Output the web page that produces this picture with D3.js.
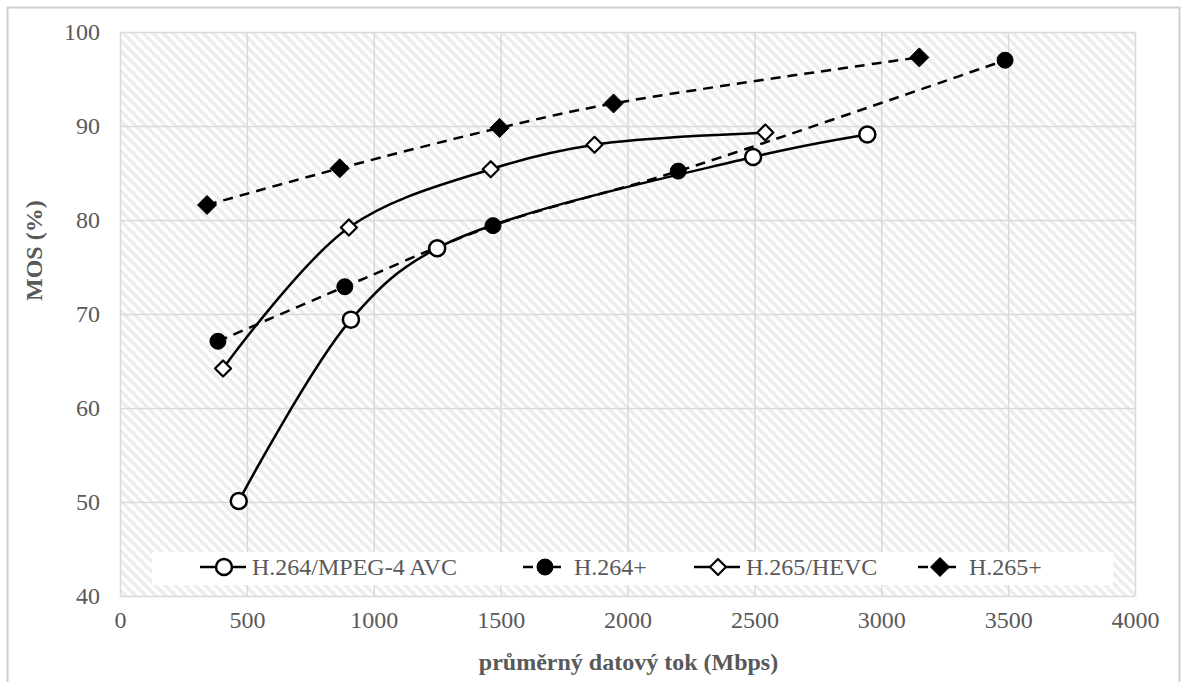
<!DOCTYPE html>
<html>
<head>
<meta charset="utf-8">
<script src="https://cdn.jsdelivr.net/npm/d3@7"></script>
<style>
  body { margin: 0; background: #fff; }
  text { font-family: "Liberation Serif", "Times New Roman", serif; }
</style>
</head>
<body>
<svg id="chart" width="1183" height="682"></svg>
<script>
// Axis ticks
const xTicks = [0, 500, 1000, 1500, 2000, 2500, 3000, 3500, 4000];
const yTicks = [40, 50, 60, 70, 80, 90, 100];

// Series: average bitrate (Mbps) and MOS (%)
const avcRate      = [468, 910, 1250, 2495, 2945];
const avcMos       = [50.1, 69.4, 77.0, 86.7, 89.1];
const avcPlusRate  = [386, 886, 1470, 2200, 3488];
const avcPlusMos   = [67.1, 72.9, 79.4, 85.2, 97.0];
const hevcRate     = [406, 902, 1461, 1870, 2543];
const hevcMos      = [64.2, 79.2, 85.4, 88.0, 89.3];
const hevcPlusRate = [343, 866, 1496, 1945, 3150];
const hevcPlusMos  = [81.6, 85.5, 89.8, 92.4, 97.3];

const seriesNames = ["H.264/MPEG-4 AVC", "H.264+", "H.265/HEVC", "H.265+"];

const series = [
  { name: seriesNames[0], x: avcRate,      y: avcMos,      marker: "circle",  filled: false, dashed: false },
  { name: seriesNames[1], x: avcPlusRate,  y: avcPlusMos,  marker: "circle",  filled: true,  dashed: true  },
  { name: seriesNames[2], x: hevcRate,     y: hevcMos,     marker: "diamond", filled: false, dashed: false },
  { name: seriesNames[3], x: hevcPlusRate, y: hevcPlusMos, marker: "diamond", filled: true,  dashed: true  }
];

const svg = d3.select("#chart");
const margin = { left: 120, top: 32, right: 1135, bottom: 596 };
const fontStack = "'Liberation Serif', 'Times New Roman', serif";
const labelColor = "#595959";
const gridColor = "#d9d9d9";

const x = d3.scaleLinear().domain([0, 4000]).range([margin.left, margin.right]);
const y = d3.scaleLinear().domain([40, 100]).range([margin.bottom, margin.top]);

// Outer frame (bottom edge runs past the page)
svg.append("rect")
  .attr("x", 7.5).attr("y", 7.5).attr("width", 1172).attr("height", 700)
  .attr("fill", "#fff").attr("stroke", "#cfcfcf").attr("stroke-width", 2);

// Diagonal hatch for the plot area
const defs = svg.append("defs");
const pat = defs.append("pattern")
  .attr("id", "hatch").attr("patternUnits", "userSpaceOnUse")
  .attr("width", 10).attr("height", 10);
pat.append("rect").attr("width", 10).attr("height", 10).attr("fill", "#fff");
pat.append("path")
  .attr("d", "M-3,-3 L13,13 M-3,7 L3,13 M7,-3 L13,3")
  .attr("stroke", "#ededed").attr("stroke-width", 3.6);

svg.append("rect")
  .attr("x", margin.left).attr("y", margin.top)
  .attr("width", margin.right - margin.left).attr("height", margin.bottom - margin.top)
  .attr("fill", "url(#hatch)");

// Grid lines
svg.append("g")
  .attr("transform", `translate(0,${margin.bottom})`)
  .call(d3.axisBottom(x).tickValues(xTicks).tickSize(-(margin.bottom - margin.top)).tickFormat(""))
  .call(g => g.select(".domain").remove())
  .call(g => g.selectAll("line").attr("stroke", gridColor).attr("stroke-width", 1.5));

svg.append("g")
  .attr("transform", `translate(${margin.left},0)`)
  .call(d3.axisLeft(y).tickValues(yTicks).tickSize(-(margin.right - margin.left)).tickFormat(""))
  .call(g => g.select(".domain").remove())
  .call(g => g.selectAll("line").attr("stroke", gridColor).attr("stroke-width", 1.5));

// Tick labels
svg.append("g")
  .attr("transform", `translate(0,${margin.bottom})`)
  .call(d3.axisBottom(x).tickValues(xTicks).tickFormat(d3.format("d")).tickSize(0).tickPadding(15))
  .call(g => g.select(".domain").remove())
  .call(g => g.selectAll("text")
    .attr("font-size", 24).attr("fill", labelColor)
    .style("font-family", fontStack));

svg.append("g")
  .attr("transform", `translate(${margin.left},0)`)
  .call(d3.axisLeft(y).tickValues(yTicks).tickFormat(d3.format("d")).tickSize(0).tickPadding(20))
  .call(g => g.select(".domain").remove())
  .call(g => g.selectAll("text")
    .attr("font-size", 24).attr("fill", labelColor)
    .style("font-family", fontStack));

// Axis titles
svg.append("text")
  .attr("x", (margin.left + margin.right) / 2 + 1).attr("y", 670)
  .attr("text-anchor", "middle").attr("font-size", 24).attr("font-weight", "bold")
  .attr("fill", labelColor)
  .text("průměrný datový tok (Mbps)");

svg.append("text")
  .attr("transform", "translate(42,301) rotate(-90)")
  .attr("text-anchor", "start").attr("font-size", 24).attr("font-weight", "bold")
  .attr("fill", labelColor)
  .text("MOS (%)");

// Markers
const diamondPath = r => `M0,${-r} L${r},0 L0,${r} L${-r},0 Z`;
function drawMarker(g, s, cx, cy) {
  if (s.marker === "circle") {
    g.append("circle")
      .attr("cx", cx).attr("cy", cy).attr("r", 8)
      .attr("fill", s.filled ? "#000" : "#fff")
      .attr("stroke", "#000").attr("stroke-width", s.filled ? 1 : 2.5);
  } else {
    g.append("path")
      .attr("transform", `translate(${cx},${cy})`)
      .attr("d", diamondPath(s.filled ? 9.5 : 8))
      .attr("fill", s.filled ? "#000" : "#fff")
      .attr("stroke", "#000").attr("stroke-width", s.filled ? 1 : 2.2)
      .attr("stroke-linejoin", "round");
  }
}

// Series lines (smoothed)
const line = d3.line()
  .x(d => x(d[0])).y(d => y(d[1]))
  .curve(d3.curveCatmullRom.alpha(0.5));

const plot = svg.append("g");
series.forEach(s => {
  const pts = s.x.map((v, i) => [v, s.y[i]]);
  plot.append("path")
    .attr("d", line(pts))
    .attr("fill", "none").attr("stroke", "#000").attr("stroke-width", 2.5)
    .attr("stroke-dasharray", s.dashed ? "10,7" : null);
});
series.forEach(s => {
  const g = plot.append("g");
  s.x.forEach((v, i) => drawMarker(g, s, x(v), y(s.y[i])));
});

// Legend
const legend = svg.append("g");
legend.append("rect")
  .attr("x", 152).attr("y", 552).attr("width", 961).attr("height", 33)
  .attr("fill", "#fff");

const legendX = [200, 523, 694, 918];
const legendY = 567;
series.forEach((s, i) => {
  const g = legend.append("g").attr("transform", `translate(${legendX[i]},${legendY})`);
  if (s.dashed) {
    g.append("line").attr("x1", 0).attr("x2", 10).attr("stroke", "#000").attr("stroke-width", 2.5);
    g.append("line").attr("x1", 28).attr("x2", 38).attr("stroke", "#000").attr("stroke-width", 2.5);
  } else {
    g.append("line").attr("x1", 0).attr("x2", 46).attr("stroke", "#000").attr("stroke-width", 2.5);
  }
  drawMarker(g, s, s.dashed ? 22 : 24, 0);
  g.append("text")
    .attr("x", s.dashed ? 51 : 52).attr("y", 8)
    .attr("font-size", 24).attr("fill", labelColor)
    .text(s.name);
});
</script>
</body>
</html>
